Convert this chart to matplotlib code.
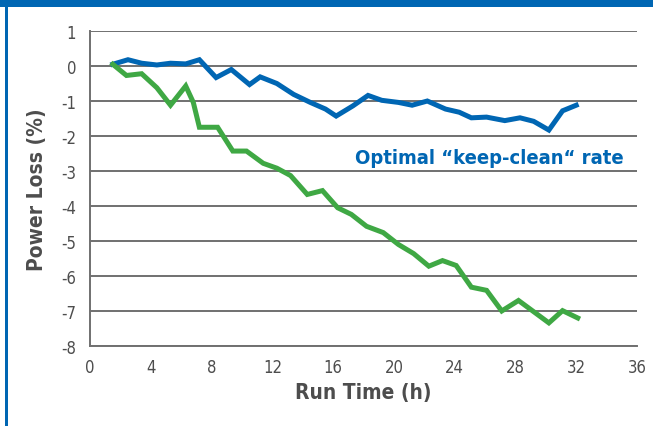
import matplotlib
matplotlib.use('Agg')
import matplotlib.pyplot as plt
from matplotlib.patches import Rectangle

# Run time (h) and power loss (%)
blue_time = [1.5, 2.5, 3.4, 4.4, 5.3, 6.3, 7.2, 8.3, 9.3, 10.5, 11.2, 12.3,
             13.4, 14.5, 15.5, 16.2, 17.3, 18.3, 19.2, 20.3, 21.2, 22.2,
             23.4, 24.3, 25.1, 26.1, 27.3, 28.3, 29.2, 30.2, 31.1, 32.0]
blue_loss = [0.05, 0.18, 0.08, 0.03, 0.08, 0.06, 0.18, -0.33, -0.1, -0.53,
             -0.31, -0.5, -0.81, -1.04, -1.23, -1.43, -1.14, -0.84, -0.98,
             -1.04, -1.12, -1.0, -1.23, -1.32, -1.48, -1.46, -1.56, -1.48,
             -1.58, -1.83, -1.28, -1.12]

green_time = [1.5, 2.4, 3.4, 4.4, 5.3, 6.3, 6.8, 7.2, 8.4, 9.4, 10.3, 11.4,
              12.3, 13.2, 14.3, 15.3, 16.3, 17.2, 18.2, 19.3, 20.3, 21.3,
              22.3, 23.2, 24.1, 25.1, 26.1, 27.1, 28.2, 29.2, 30.2, 31.1, 32.1]
green_loss = [0.05, -0.27, -0.22, -0.62, -1.12, -0.57, -1.04, -1.75, -1.75,
              -2.43, -2.43, -2.78, -2.92, -3.13, -3.67, -3.56, -4.05, -4.24,
              -4.58, -4.76, -5.1, -5.36, -5.72, -5.56, -5.7, -6.32, -6.41,
              -7.0, -6.7, -7.02, -7.34, -6.99, -7.2]

x_ticks = [0, 4, 8, 12, 16, 20, 24, 28, 32, 36]
y_ticks = [-8, -7, -6, -5, -4, -3, -2, -1, 0, 1]

BLUE = '#0066b3'
GREEN = '#3fa844'
GRID = '#707070'
TEXT = '#4d4d4d'

plt.rcParams['font.family'] = ['DejaVu Sans']
plt.rcParams['font.stretch'] = 'condensed'
plt.rcParams['axes.unicode_minus'] = False

fig = plt.figure(figsize=(6.53, 4.27), dpi=100)
ax = fig.add_axes([0.1378, 0.1874, 0.8377, 0.7376])

# frame decoration: blue top bar and thin left rule
fig.patches.append(Rectangle((0, 1 - 8 / 427), 1, 8 / 427, transform=fig.transFigure,
                             facecolor=BLUE, edgecolor='none'))
fig.patches.append(Rectangle((5 / 653, 0), 3 / 653, 1, transform=fig.transFigure,
                             facecolor=BLUE, edgecolor='none'))

ax.plot(blue_time, blue_loss, color=BLUE, lw=3.6, solid_joinstyle='miter', zorder=3)
ax.plot(green_time, green_loss, color=GREEN, lw=3.6, solid_joinstyle='miter', zorder=3)

ax.text(17.45, -2.6, 'Optimal \u201ckeep-clean\u201c rate', color=BLUE,
        fontsize=14.5, fontweight='bold', va='center', ha='left')

ax.set_xlim(0, 36)
ax.set_ylim(-8, 1)
ax.set_xticks(x_ticks)
ax.set_yticks(y_ticks)
ax.tick_params(length=0, labelsize=12, labelcolor=TEXT)
ax.tick_params(axis='x', pad=9)
ax.tick_params(axis='y', pad=10)

ax.grid(axis='y', color=GRID, lw=1.4)
ax.set_axisbelow(True)
for side in ['top', 'right']:
    ax.spines[side].set_visible(False)
for side in ['left', 'bottom']:
    ax.spines[side].set_color(GRID)
    ax.spines[side].set_linewidth(1.4)

ax.set_xlabel('Run Time (h)', fontsize=15, fontweight='bold', color=TEXT, labelpad=4)
ax.set_ylabel('Power Loss (%)', fontsize=15, fontweight='bold', color=TEXT, labelpad=10)

fig.savefig('out.png', dpi=100)
